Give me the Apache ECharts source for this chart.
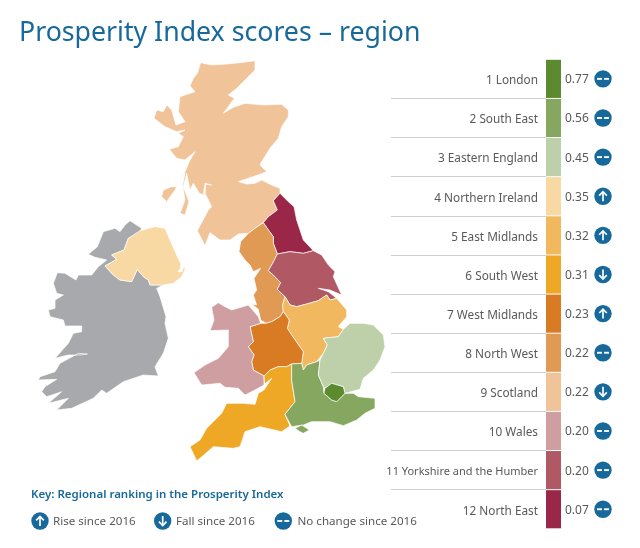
<!DOCTYPE html>
<html><head><meta charset="utf-8">
<style>html,body{margin:0;padding:0;background:#fff}#c{width:640px;height:548px}</style>
<script src="https://cdn.jsdelivr.net/npm/echarts@6/dist/echarts.min.js"></script></head>
<body><div id="c"></div>
<script>
const regions=['London','South East','Eastern England','Northern Ireland','East Midlands','South West','West Midlands','North West','Scotland','Wales','Yorkshire and the Humber','North East'];
const scores=[0.77,0.56,0.45,0.35,0.32,0.31,0.23,0.22,0.22,0.20,0.20,0.07];
const changes=['same','same','same','rise','rise','fall','rise','same','fall','same','same','same'];
const colours=['#5B8A2F','#86A760','#BDD0A9','#F8D8A3','#F2B860','#EEA825','#D97B22','#E09A53','#F0C398','#CF9EA1','#B05965','#9B2748'];
const keyItems=[['rise','Rise since 2016'],['fall','Fall since 2016'],['same','No change since 2016']];
const titleText='Prosperity Index scores – region';
const keyTitle='Key: Regional ranking in the Prosperity Index';

// Outline tracings, one unit = 1/3 pixel, each with its own origin.
const S=[[182,38],[215,45],[260,42],[300,38],[345,32],[345,60],[320,85],[290,115],[265,135],[283,145],[250,190],[280,172],[315,160],[370,165],[425,163],[445,180],[445,200],[425,230],[415,265],[390,295],[365,335],[360,345],[380,365],[345,378],[295,395],[320,402],[345,400],[365,390],[395,405],[420,415],[420,430],[400,452],[412,480],[385,500],[370,518],[345,535],[325,550],[295,552],[270,570],[240,570],[210,548],[195,587],[172,542],[205,480],[215,470],[195,430],[197,403],[215,405],[195,400],[190,435],[178,430],[160,400],[150,420],[140,370],[130,410],[147,455],[135,495],[120,490],[135,450],[128,405],[135,368],[105,420],[80,455],[65,440],[70,420],[95,410],[110,410],[135,365],[150,330],[165,305],[135,330],[110,325],[88,298],[115,290],[130,260],[115,250],[135,240],[110,245],[75,230],[42,205],[50,180],[70,185],[80,165],[95,180],[108,225],[135,215],[115,185],[120,140],[135,135],[165,125],[150,108],[160,85],[172,70]];
const NE=[[270,-110],[295,-85],[312,-70],[320,-30],[340,30],[370,62],[340,70],[300,65],[262,72],[250,40],[250,20],[235,0],[220,-22],[235,-40],[262,-60],[250,-88]];
const NW=[[220,-22],[235,0],[250,20],[250,40],[262,72],[248,100],[235,122],[250,135],[272,158],[262,178],[285,200],[278,225],[280,245],[270,260],[245,275],[228,280],[212,270],[205,238],[185,222],[200,225],[190,195],[200,180],[192,145],[212,115],[190,125],[180,105],[165,90],[147,65],[152,35],[175,10],[195,-5]];
const YH=[[262,72],[300,65],[340,70],[370,62],[395,75],[415,105],[435,125],[430,140],[455,195],[420,180],[385,175],[415,185],[440,205],[420,210],[410,195],[385,212],[350,222],[320,230],[300,225],[285,200],[262,178],[272,158],[250,135],[235,122],[248,100]];
const EM=[[285,200],[300,225],[320,230],[350,222],[385,212],[410,195],[420,210],[440,205],[470,240],[470,260],[445,290],[460,298],[445,320],[400,325],[412,345],[400,370],[380,395],[350,405],[340,420],[335,400],[340,365],[305,315],[292,295],[298,270],[280,245],[278,225]];
const WM=[[280,245],[298,270],[292,295],[305,315],[340,365],[335,400],[305,402],[290,410],[265,410],[240,420],[222,438],[190,420],[185,395],[192,375],[175,350],[190,335],[180,290],[212,280],[228,280],[245,275],[270,260]];
const WA=[[65,232],[85,218],[105,230],[125,240],[175,225],[205,260],[212,280],[180,290],[190,335],[175,350],[192,375],[185,395],[190,420],[222,438],[222,465],[195,480],[165,495],[145,475],[105,472],[90,460],[35,465],[12,428],[45,405],[85,385],[115,350],[115,300],[60,302],[72,270]];
const SW=[[222,438],[240,420],[265,410],[290,410],[305,402],[305,450],[315,515],[307,525],[285,553],[300,588],[275,605],[210,590],[165,605],[150,650],[130,655],[70,650],[30,685],[20,692],[0,650],[30,630],[50,595],[95,550],[110,520],[160,520],[195,523],[205,490],[222,480],[245,445],[224,462]];
const SE=[[335,400],[340,420],[350,405],[380,395],[390,390],[385,435],[400,470],[402,490],[425,510],[440,515],[455,500],[465,490],[490,490],[505,500],[555,505],[555,535],[525,550],[500,570],[460,587],[420,575],[365,575],[340,585],[305,590],[285,553],[307,525],[315,515],[305,450],[305,402]];
const IW=[[315,595],[335,585],[358,600],[340,610],[330,605]];
const LO=[[402,490],[405,475],[425,460],[460,470],[465,490],[455,500],[440,515],[425,510]];
const EE=[[390,390],[400,370],[412,345],[400,325],[445,320],[460,298],[480,280],[520,280],[550,285],[580,315],[585,350],[570,390],[550,420],[520,445],[510,478],[465,490],[460,470],[425,460],[405,475],[400,470],[385,435]];
const NI=[[420,32],[465,20],[495,25],[510,60],[530,105],[537,120],[543,132],[540,148],[533,155],[546,155],[553,135],[555,150],[545,170],[520,190],[490,195],[450,195],[445,180],[430,170],[412,148],[395,185],[360,180],[340,165],[315,138],[350,118],[335,105],[372,90],[385,55]];
const IE=[[385,55],[420,35],[425,25],[390,2],[375,15],[360,35],[345,25],[310,35],[292,80],[265,103],[285,112],[320,120],[295,140],[275,165],[235,165],[228,180],[195,160],[172,158],[160,190],[170,220],[190,225],[165,240],[165,265],[145,270],[150,290],[190,300],[195,318],[245,318],[245,335],[220,340],[205,370],[165,415],[205,405],[240,405],[262,402],[235,400],[180,430],[165,455],[120,470],[115,480],[170,478],[135,500],[125,515],[140,530],[185,515],[145,550],[205,535],[170,570],[215,565],[280,535],[305,510],[320,520],[370,485],[430,465],[475,468],[465,440],[490,400],[505,355],[495,310],[498,290],[480,230],[470,205],[490,195],[450,195],[445,180],[430,170],[412,148],[395,185],[360,180],[340,165],[315,138],[350,118],[335,105],[372,90]];

function ring(pts,ox,oy){const r=pts.map(p=>[ox+p[0]/3,-(oy+p[1]/3)]);r.push(r[0]);return r;}
function feat(name,rings){return {type:'Feature',properties:{name},geometry:{type:'MultiPolygon',coordinates:rings.map(r=>[r])}};}
const E=(p)=>ring(p,190,230);
const geo={type:'FeatureCollection',features:[
 feat('Republic of Ireland',[ring(IE,0,220)]),
 feat('Northern Ireland',[ring(NI,0,220)]),
 feat('Scotland',[ring(S,140,50)]),
 feat('North East',[E(NE)]),feat('North West',[E(NW)]),feat('Yorkshire and the Humber',[E(YH)]),
 feat('East Midlands',[E(EM)]),feat('West Midlands',[E(WM)]),feat('Wales',[E(WA)]),
 feat('South West',[E(SW)]),feat('South East',[E(SE),E(IW)]),feat('Eastern England',[E(EE)]),feat('London',[E(LO)])
]};
echarts.registerMap('uk',geo);

const BLUE='#17699B',FONT='"Noto Sans","Open Sans",sans-serif',GREY='#58595B';
function glyph(kind,cx,cy){
 const st={stroke:'#fff',lineWidth:1.7,fill:null};
 const line=(pts,w)=>({type:'polyline',shape:{points:pts.map(p=>[cx+p[0],cy+p[1]])},style:Object.assign({},st,w?{lineWidth:w}:{}),z2:3});
 if(kind==='rise')return [line([[0,5],[0,-4.2]]),line([[-3.8,-0.6],[0,-4.5],[3.8,-0.6]])];
 if(kind==='fall')return [line([[0,-5],[0,4.2]]),line([[-3.8,0.6],[0,4.5],[3.8,0.6]])];
 return [line([[-6,0],[-1,0]],1.9),line([[1,0],[6,0]],1.9)];
}
function badge(kind,cx,cy){
 return [{type:'circle',shape:{cx,cy,r:8.7},style:{fill:BLUE},z2:2}].concat(glyph(kind,cx,cy));
}
const keyX=[40,162.7,283.3],keyTX=[53,176,297.5];
const graphic=[
 {type:'text',left:19,top:20,style:{text:titleText,font:'26.7px '+FONT,fill:BLUE}},
 {type:'text',left:31,top:489,style:{text:keyTitle,font:'600 11.5px '+FONT,fill:BLUE}}
];
keyItems.forEach((k,i)=>{
 badge(k[0],keyX[i],521).forEach(el=>graphic.push(el));
 graphic.push({type:'text',x:keyTX[i],y:522,style:{text:k[1],font:'11.6px '+FONT,fill:GREY,textVerticalAlign:'middle'}});
});

const chart=echarts.init(document.getElementById('c'),null,{renderer:'canvas'});
chart.setOption({
 animation:false,backgroundColor:'#fff',
 graphic:{elements:graphic},
 grid:[{left:391,width:155,top:59.3,height:469.5,containLabel:false},{left:546,width:94,top:59.3,height:469.5}],
 xAxis:[{gridIndex:0,type:'value',show:false,min:0,max:1},{gridIndex:1,type:'value',show:false,min:0,max:1}],
 yAxis:[
  {gridIndex:0,type:'category',inverse:true,position:'right',data:regions.map((r,i)=>(i+1)+' '+r),
   axisLine:{show:false},axisTick:{show:false},
   axisLabel:{inside:true,interval:0,margin:8,fontFamily:FONT,fontSize:11.8,color:GREY,align:'right',padding:[4,0,0,0],
    formatter:(v,i)=>v.length>20?'{t|'+v+'}':v,
    rich:{t:{fontFamily:FONT,fontSize:11,color:GREY}}},
   splitLine:{show:true,interval:0,showMinLine:false,showMaxLine:false,lineStyle:{color:'#CFCFCF',width:1}}},
  {gridIndex:1,type:'category',inverse:true,data:regions,show:false}
 ],
 series:[
  {type:'map',map:'uk',aspectScale:1,roam:false,silent:true,selectedMode:false,
   boundingCoords:[[0,0],[640,-548]],layoutCenter:['50%','50%'],layoutSize:640,
   label:{show:false},
   itemStyle:{areaColor:'#A7A9AC',borderColor:'#fff',borderWidth:0.7},
   data:regions.map((r,i)=>({name:r,value:scores[i],itemStyle:{areaColor:colours[i]}}))},
  {type:'custom',xAxisIndex:1,yAxisIndex:1,silent:true,
   data:regions.map((r,i)=>[scores[i],r,i]),
   encode:{x:0,y:1},
   renderItem(params,api){
    const i=api.value(2),cs=params.coordSys;
    const yc=api.coord([0,regions[i]])[1],h=api.size([0,1])[1];
    return {type:'group',children:[
     {type:'rect',shape:{x:cs.x,y:yc-h/2+0.5,width:15,height:h-1},style:{fill:colours[i]}},
     {type:'text',style:{x:cs.x+19,y:yc+1,text:scores[i].toFixed(2),font:'12px '+FONT,fill:GREY,textVerticalAlign:'middle'}}
    ].concat(badge(changes[i],cs.x+57,yc))};
   }}
 ]
});
</script></body></html>
